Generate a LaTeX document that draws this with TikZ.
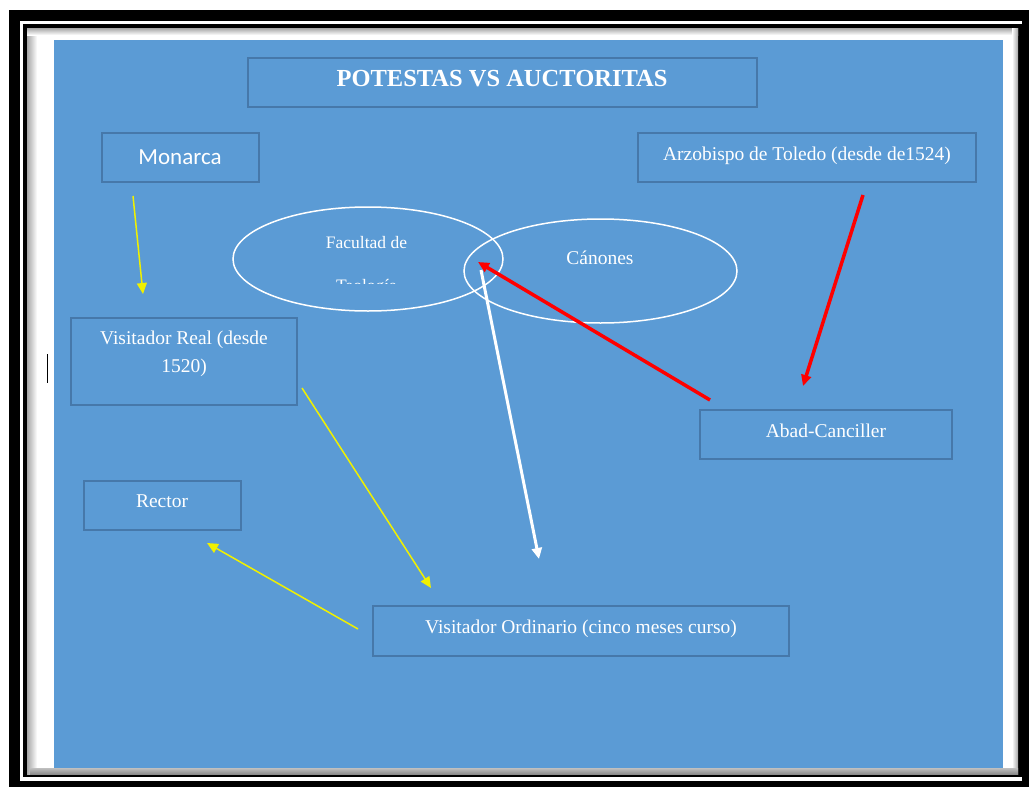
\documentclass[tikz,border=0pt]{standalone}
\usepackage{fontspec}
\setmainfont{Liberation Serif}
\newfontfamily\calibri{Carlito}
\usetikzlibrary{positioning,shapes.geometric,arrows.meta}

\definecolor{fondoazul}{RGB}{91,155,213}
\definecolor{bordeazul}{RGB}{70,120,170}
\definecolor{amarillo}{RGB}{240,240,0}
\tikzset{
 caja/.style={draw=bordeazul,line width=1.2pt,text=white,inner sep=0pt},
 texto/.style={text=white,font=\fontsize{19.5}{28}\selectfont},
 elipse/.style={ellipse,draw=white,line width=1.5pt,inner sep=0pt},
 flecha/.style={-{Triangle[length=11pt,width=10pt]},line width=#1},
}

\begin{document}
\begin{tikzpicture}[x=1pt,y=-1pt]
\useasboundingbox (0,0) rectangle (1029,787);
% marco
\fill[white] (0,0) rectangle (1029,787);
\fill[black] (9,10) rectangle (1029,787);
\fill[white] (20,21) rectangle (1022,781);
\fill[black] (23,24) rectangle (1022,777);
\fill[white] (27,28) rectangle (1018,774);
\shade[left color=gray!70,right color=white] (27,28) rectangle (37,774);
\shade[top color=gray!70,bottom color=white] (27,28) rectangle (1018,35);
\shade[left color=white,right color=gray!70] (1012,28) rectangle (1018,774);
\fill[fondoazul] (54,40) rectangle (1003,768);
\shade[top color=gray!50,bottom color=gray!90] (30,768) rectangle (1018,774);
\draw[black,line width=1pt] (47,354) -- (47,383);

% cajas
\node[caja,minimum width=509pt,minimum height=49pt] (titulo) at (502.5,82.5) {};
\node[texto,font=\bfseries\fontsize{24.5}{28}\selectfont] (tituloT) at (502,79) {POTESTAS VS AUCTORITAS};
\node[caja,minimum width=157pt,minimum height=49pt] (monarca) at (180.5,157.5) {};
\node[texto,font=\calibri\fontsize{23}{28}\selectfont] (monarcaT) at (180,157) {Monarca};
\node[caja,minimum width=338pt,minimum height=49pt] (arzobispo) at (807,157.5) {};
\node[texto] (arzobispoT) at (807,156) {Arzobispo de Toledo (desde de1524)};
\node[caja,minimum width=226pt,minimum height=87pt] (vreal) at (184,361.5) {};
\node[texto,align=center,below=10pt of vreal.north] (vrealT) {Visitador Real (desde\\1520)};
\node[caja,minimum width=157pt,minimum height=49pt] (rector) at (162.5,505.5) {};
\node[texto] (rectorT) at (162,501) {Rector};
\node[caja,minimum width=252pt,minimum height=49pt] (abad) at (826,434.5) {};
\node[texto] (abadT) at (826,431) {Abad-Canciller};
\node[caja,minimum width=416pt,minimum height=50pt] (vord) at (581,631) {};
\node[texto] (vordT) at (581,629) {Visitador Ordinario (cinco meses curso)};

% elipses
\node[elipse,minimum width=270pt,minimum height=104pt] (facultad) at (368,259) {};
\node[elipse,minimum width=273pt,minimum height=104pt] (canones) at (600.5,271) {};
\node[texto,font=\fontsize{17.5}{20}\selectfont] (facultadT) at (366.5,243) {Facultad de};
\begin{scope}
\clip (250,240) rectangle (480,283);
\node[texto,font=\fontsize{17.5}{20}\selectfont] (teologiaT) at (366.5,287) {Teología};
\end{scope}
\node[texto] (canonesT) at (600,258) {Cánones};

% flechas
\coordinate (y1a) at (133,196);
\coordinate (y1b) at (143,294);
\coordinate (y2a) at (302,388);
\coordinate (y2b) at (431,588);
\coordinate (y3a) at (358,629);
\coordinate (y3b) at (207,543);
\coordinate (r1a) at (863,195);
\coordinate (r1b) at (803,386);
\coordinate (r2a) at (710,400);
\coordinate (r2b) at (478,262);
\coordinate (b1a) at (481,270);
\coordinate (b1b) at (539,559);
\foreach \Ini/\Fin in {y1a/y1b,y2a/y2b,y3a/y3b}
 \draw[flecha=1.5pt,amarillo] (\Ini) -- (\Fin);
\foreach \Ini/\Fin in {r1a/r1b,r2a/r2b}
 \draw[flecha=3.5pt,red] (\Ini) -- (\Fin);
\draw[flecha=3pt,white] (b1a) -- (b1b);
\end{tikzpicture}
\end{document}
